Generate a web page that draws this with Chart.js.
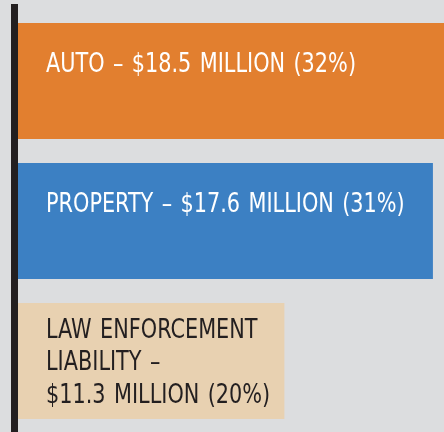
<!DOCTYPE html>
<html>
<head>
<meta charset="utf-8">
<script src="https://cdn.jsdelivr.net/npm/chart.js@4"></script>
<style>
  html, body { margin: 0; padding: 0; background: #dcdddf; }
  canvas { display: block; }
</style>
</head>
<body>
<canvas id="chart" width="444" height="432"></canvas>
<script>
const categories = ["AUTO", "PROPERTY", "LAW ENFORCEMENT LIABILITY"];
const amounts = [18.5, 17.6, 11.3];   // $ million
const shares = [32, 31, 20];          // percent
const labelLines = [
  ["AUTO – $18.5 MILLION (32%)"],
  ["PROPERTY – $17.6 MILLION (31%)"],
  ["LAW ENFORCEMENT", "LIABILITY –", "$11.3 MILLION (20%)"],
];

const barColors = ["#e27f2f", "#3c80c3", "#e8d1b1"];
const textColors = ["#ffffff", "#ffffff", "#231f20"];
const FONT = '26px "Liberation Sans Narrow", "DejaVu Sans Condensed", sans-serif';
const SQUEEZE = 0.89; // condensed look of the original typeface

const axisLine = {
  id: "axisLine",
  beforeDatasetsDraw(chart) {
    const { ctx, chartArea } = chart;
    ctx.save();
    ctx.fillStyle = "#231f20";
    ctx.fillRect(chartArea.left - 7, chartArea.top - 7, 7, chartArea.bottom - chartArea.top + 8);
    ctx.restore();
  }
};

function squeezedText(ctx, txt, x, y) {
  ctx.save();
  ctx.translate(x, y);
  ctx.scale(SQUEEZE, 1);
  ctx.fillText(txt, 0, 0);
  ctx.restore();
}

const barLabels = {
  id: "barLabels",
  afterDatasetsDraw(chart) {
    const { ctx } = chart;
    const meta = chart.getDatasetMeta(0);
    ctx.save();
    ctx.font = FONT;
    ctx.wordSpacing = "2px";
    ctx.textBaseline = "alphabetic";
    meta.data.forEach((bar, i) => {
      const top = bar.y - bar.height / 2;
      const lines = labelLines[i];
      ctx.fillStyle = textColors[i];
      const x = bar.base + 28;
      if (lines.length === 1) {
        squeezedText(ctx, lines[0], x, top + 49);
      } else {
        lines.forEach((ln, j) => squeezedText(ctx, ln, x, top + 35 + j * 32.5));
      }
    });
    ctx.restore();
  }
};

new Chart(document.getElementById("chart"), {
  type: "bar",
  data: {
    labels: categories,
    datasets: [{
      data: amounts,
      backgroundColor: barColors,
      borderWidth: 0,
      barPercentage: 0.83,
      categoryPercentage: 1,
      clip: 0,
    }]
  },
  options: {
    indexAxis: "y",
    responsive: false,
    animation: false,
    layout: { padding: { left: 18, top: 11, right: 0, bottom: 1 } },
    scales: {
      x: { display: false, min: 0, max: 18.07 },
      y: { display: false },
    },
    plugins: {
      legend: { display: false },
      tooltip: { enabled: false },
    },
  },
  plugins: [axisLine, barLabels],
});
</script>
</body>
</html>
